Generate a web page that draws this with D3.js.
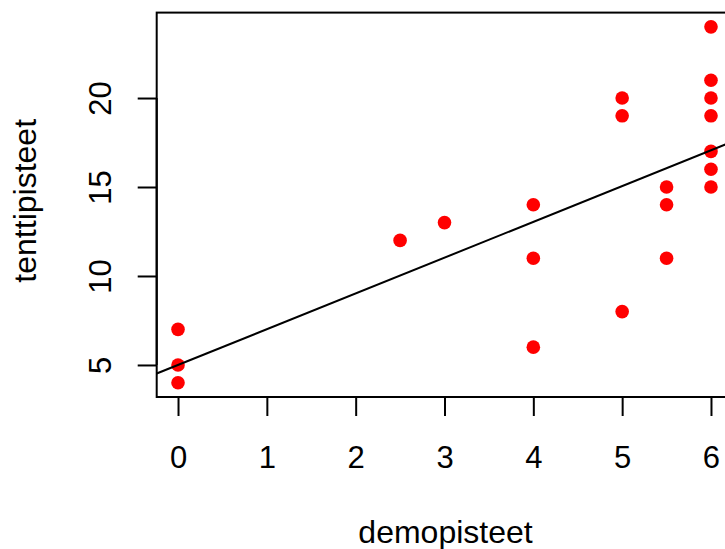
<!DOCTYPE html>
<html>
<head>
<meta charset="utf-8">
<script src="https://cdn.jsdelivr.net/npm/d3@7"></script>
<style>
  html, body { margin: 0; padding: 0; background: #fff; }
  svg { display: block; font-family: "Liberation Sans", Arial, Helvetica, sans-serif; }
</style>
</head>
<body>
<svg id="chart" width="725" height="549"></svg>
<script>
// Demo points (x) against exam points (y)
const demopisteet = [0, 0, 0, 2.5, 3, 4, 4, 4, 5, 5, 5, 5.5, 5.5, 5.5, 6, 6, 6, 6, 6, 6, 6];
const tenttipisteet = [7, 5, 4, 12, 13, 14, 11, 6, 20, 19, 8, 15, 14, 11, 24, 21, 20, 19, 17, 16, 15];

// Fitted line: intercept and slope
const fitCoef = [5.0, 2.01];

const xTicks = [0, 1, 2, 3, 4, 5, 6];
const yTicks = [5, 10, 15, 20];

const svg = d3.select("#chart");
const box = { left: 156.7, right: 732.3, top: 12.6, bottom: 397 };

// Axis ranges padded by 4% as in base graphics
const xExt = d3.extent(demopisteet), yExt = d3.extent(tenttipisteet);
const xPad = (xExt[1] - xExt[0]) * 0.04, yPad = (yExt[1] - yExt[0]) * 0.04;
const x = d3.scaleLinear().domain([xExt[0] - xPad, xExt[1] + xPad]).range([box.left, box.right]);
const y = d3.scaleLinear().domain([yExt[0] - yPad, yExt[1] + yPad]).range([box.bottom, box.top]);

const fsTick = 31;
const fsTitle = 32;
const tickLen = 19;

// clip for the fitted line
svg.append("clipPath").attr("id", "plotclip")
  .append("rect")
  .attr("x", box.left).attr("y", box.top)
  .attr("width", box.right - box.left).attr("height", box.bottom - box.top);

// points
svg.append("g").selectAll("circle")
  .data(demopisteet.map((d, i) => [d, tenttipisteet[i]]))
  .join("circle")
  .attr("cx", d => x(d[0]))
  .attr("cy", d => y(d[1]))
  .attr("r", 6.8)
  .attr("fill", "#ff0000");

// regression line across the plot region
const [x0, x1] = x.domain();
svg.append("line")
  .attr("clip-path", "url(#plotclip)")
  .attr("x1", x(x0)).attr("y1", y(fitCoef[0] + fitCoef[1] * x0))
  .attr("x2", x(x1)).attr("y2", y(fitCoef[0] + fitCoef[1] * x1))
  .attr("stroke", "#000").attr("stroke-width", 2);

// plot box
svg.append("rect")
  .attr("x", box.left).attr("y", box.top)
  .attr("width", box.right - box.left).attr("height", box.bottom - box.top)
  .attr("fill", "none").attr("stroke", "#000").attr("stroke-width", 2);

// x axis
const xAxis = d3.axisBottom(x).tickValues(xTicks).tickSize(tickLen).tickSizeOuter(0)
  .tickFormat(d3.format("d"));
const gx = svg.append("g").attr("transform", `translate(0,${box.bottom})`).call(xAxis);
gx.select(".domain").attr("d", `M${x(xTicks[0])},0H${x(xTicks[xTicks.length - 1])}`).attr("stroke-width", 2);
gx.selectAll(".tick line").attr("stroke-width", 2);
gx.selectAll(".tick text")
  .attr("font-size", fsTick).attr("fill", "#000")
  .attr("dy", null).attr("y", 70.5);

// y axis
const yAxis = d3.axisLeft(y).tickValues(yTicks).tickSize(tickLen).tickSizeOuter(0).tickFormat(d3.format("d"));
const gy = svg.append("g").attr("transform", `translate(${box.left},0)`).call(yAxis);
gy.select(".domain").attr("d", `M0,${y(yTicks[0])}V${y(yTicks[yTicks.length - 1])}`).attr("stroke-width", 2);
gy.selectAll(".tick line").attr("stroke-width", 2);
gy.selectAll(".tick text")
  .attr("font-size", fsTick).attr("fill", "#000")
  .attr("x", null).attr("dy", null)
  .attr("text-anchor", "middle")
  .attr("transform", `translate(${110.5 - box.left},0) rotate(-90)`);
svg.selectAll("g").attr("font-family", null);

// axis titles
svg.append("text")
  .attr("x", (box.left + box.right) / 2 + 1).attr("y", 543)
  .attr("text-anchor", "middle").attr("font-size", fsTitle)
  .text("demopisteet");

svg.append("text")
  .attr("transform", `translate(36,${(box.top + box.bottom) / 2 - 4}) rotate(-90)`)
  .attr("text-anchor", "middle").attr("font-size", fsTitle)
  .text("tenttipisteet");
</script>
</body>
</html>
